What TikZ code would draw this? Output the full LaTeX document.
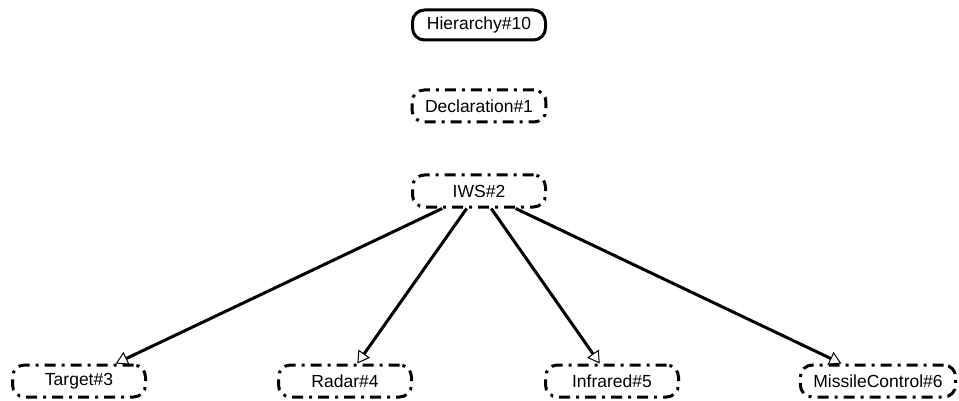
\documentclass[tikz,border=0pt]{standalone}
\usepackage{fontspec}
\setmainfont{Liberation Sans}
\usetikzlibrary{arrows.meta}
\begin{document}
\begin{tikzpicture}[x=1pt,y=-1pt,
  box/.style={draw, line width=3pt, rounded corners=12pt, minimum width=133pt,
    minimum height=30pt, inner xsep=13pt, font=\fontsize{17.5}{19}\selectfont},
  dashbox/.style={box, dash pattern=on 11pt off 6pt on 3pt off 6pt, minimum height=32pt},
  inherit/.style={line width=3pt, -{Triangle[open, length=12pt, width=14pt, line width=1pt]}}]
  \useasboundingbox (0,0) rectangle (959,401);
  \node[box] (h) at (479,25) {Hierarchy\#10};
  \node[dashbox] (d) at (479,106) {Declaration\#1};
  \node[dashbox] (iws) at (479,191) {IWS\#2};
  \node[dashbox] (t) at (79,381) {Target\#3};
  \node[dashbox] (r) at (345,381) {Radar\#4};
  \node[dashbox] (f) at (612,381) {Infrared\#5};
  \node[dashbox] (m) at (878,381) {MissileControl\#6};
  \foreach \c in {t,r,f,m} \draw[inherit] (iws) -- (\c);
\end{tikzpicture}
\end{document}
